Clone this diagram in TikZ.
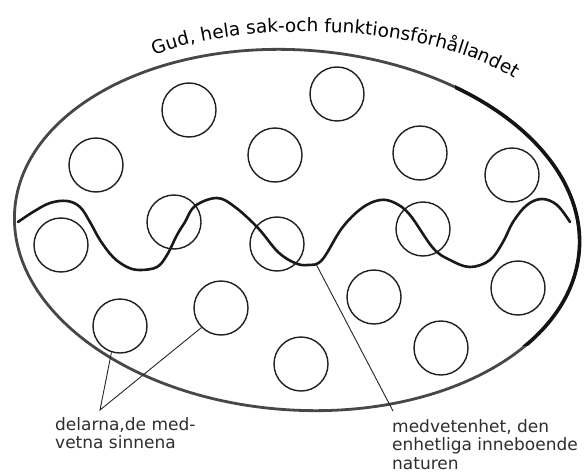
\documentclass[tikz,border=0pt]{standalone}
\usepackage{fontspec}
\setmainfont{DejaVu Sans}
\newfontfamily\titlefont{DejaVu Sans}
\usetikzlibrary{decorations.text}
\begin{document}
\begin{tikzpicture}[x=1pt,y=-1pt,
  circ/.style={circle, draw=black!88, line width=1.4pt, minimum size=54pt, inner sep=0pt},
  wave/.style={line width=2.6pt, draw=black!90, line cap=round, line join=round},
  rim/.style={line width=2.8pt, draw=black!72},
  rimbold/.style={line width=3.6pt, draw=black!92},
  ptr/.style={line width=0.9pt, draw=black!85},
  lbl/.style={font=\fontsize{17}{18.5}\selectfont, text=black!82, inner sep=0pt, align=left, anchor=north west}]
\useasboundingbox (0,0) rectangle (585,473);
\fill[white] (0,0) rectangle (585,473);
% outer ellipse
\draw[rim, rotate around={-4:(297,230)}] (297,230) ellipse [x radius=283, y radius=180];
\begin{scope}
  \clip (455,55) rectangle (600,345);
  \draw[rimbold, rotate around={-4:(297,230)}] (297,230) ellipse [x radius=283, y radius=180];
\end{scope}
% title along the rim
\path[decorate, decoration={text along path, text align=center,
  text={|\titlefont\fontsize{18.5}{20}\selectfont|Gud, hela sak-och funktionsf{\char"F6}rh{\char"E5}llandet}}]
  (148,58) .. controls (235,18) and (435,22) .. (520,82);
% circles
\node[circ] (B) at (189,110) {};
\node[circ] (C) at (337,94) {};
\node[circ] (A) at (96,165) {};
\node[circ] (D) at (275,155) {};
\node[circ] (E) at (420,153) {};
\node[circ] (F) at (512,175) {};
\node[circ] (O) at (61,245) {};
\node[circ] (P) at (174,222) {};
\node[circ] (J) at (277,244) {};
\node[circ] (G) at (423,229) {};
\node[circ] (K) at (221,308) {};
\node[circ] (L) at (120,326) {};
\node[circ] (M) at (374,297) {};
\node[circ] (H) at (518,288) {};
\node[circ] (N) at (301,364) {};
\node[circ] (I) at (441,348) {};
% wave
\draw[wave] plot[smooth, tension=0.6] coordinates {
  (18,222) (33,212) (50,203) (67,201) (80,207) (90,222) (100,240) (113,257) (127,267) (140,270)
  (157,267) (167,255) (177,235) (185,222) (195,206) (217,198) (235,207) (258,228) (278,252)
  (295,263) (308,265) (322,260) (342,228) (362,208) (380,200) (395,203) (410,215) (433,248)
  (450,260) (470,267) (490,260) (503,242) (513,222) (527,205) (542,199) (557,205) (570,222)};
% labels
\node[lbl] (parts) at (55,417) {delarna,de med-\\vetna sinnena};
\node[lbl] (nature) at (392,419) {medvetenhet, den\\enhetliga inneboende\\naturen};
% connectors
\coordinate (apex) at (100,410);
\draw[ptr] (L.-108) -- (apex) -- (K.-135);
\coordinate (wv) at (316,264);
\coordinate (wvend) at (393,411);
\draw[ptr] (wv) -- (wvend);
\end{tikzpicture}
\end{document}
